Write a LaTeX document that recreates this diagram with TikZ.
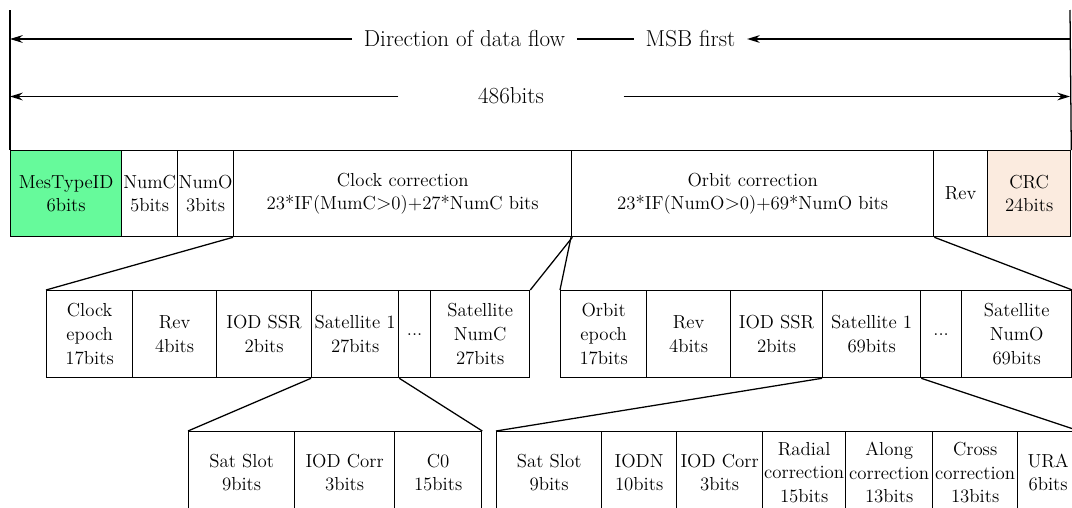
\documentclass[tikz,border=0pt]{standalone}
\usetikzlibrary{arrows.meta}
\definecolor{idgreen}{RGB}{102,250,155}
\definecolor{crcpeach}{RGB}{251,235,223}

\begin{document}
\begin{tikzpicture}[x=0.025cm, y=-0.025cm, line width=0.9pt, >={Stealth[length=9pt,width=5.5pt]}]
    \tikzstyle{field}=[draw, anchor=north west, align=center, inner xsep=0pt, inner ysep=1pt, font=\fontsize{13.4}{16.8}\selectfont]
    \tikzstyle{flowtext}=[font=\fontsize{16.4}{20}\selectfont, inner ysep=0pt, text height=11pt, text depth=0.5pt]

    \useasboundingbox (0,0) rectangle (1072,507);
    \clip (0,0) rectangle (1072,507);

    % message fields
    \node[field, fill=idgreen, minimum width=2.775cm, minimum height=2.15cm] (f1) at (10,150) {MesTypeID\\6bits};
    \node[field, minimum width=1.4cm, minimum height=2.15cm] (f2) at (121,150) {NumC\\5bits};
    \node[field, minimum width=1.4cm, minimum height=2.15cm] (f3) at (177,150) {NumO\\3bits};
    \node[field, minimum width=8.45cm, minimum height=2.15cm] (f4) at (233,150) {Clock correction\\23*IF(MumC$>$0)+27*NumC bits};
    \node[field, minimum width=9.05cm, minimum height=2.15cm] (f5) at (571,150) {Orbit correction\\23*IF(NumO$>$0)+69*NumO bits};
    \node[field, minimum width=1.35cm, minimum height=2.15cm] (f6) at (933,150) {Rev};
    \node[field, fill=crcpeach, minimum width=2.075cm, minimum height=2.15cm] (f7) at (987,150) {CRC\\24bits};

    % clock correction
    \node[field, minimum width=2.15cm, minimum height=2.175cm] (c1) at (46,290) {Clock\\epoch\\17bits};
    \node[field, minimum width=2.1cm, minimum height=2.175cm] (c2) at (132,290) {Rev\\4bits};
    \node[field, minimum width=2.375cm, minimum height=2.175cm] (c3) at (216,290) {IOD SSR\\2bits};
    \node[field, minimum width=2.175cm, minimum height=2.175cm] (c4) at (311,290) {Satellite 1\\27bits};
    \node[field, minimum width=0.8cm, minimum height=2.175cm] (c5) at (398,290) {...};
    \node[field, minimum width=2.475cm, minimum height=2.175cm] (c6) at (430,290) {Satellite\\NumC\\27bits};

    % orbit correction
    \node[field, minimum width=2.15cm, minimum height=2.175cm] (o1) at (560,290) {Orbit\\epoch\\17bits};
    \node[field, minimum width=2.1cm, minimum height=2.175cm] (o2) at (646,290) {Rev\\4bits};
    \node[field, minimum width=2.3cm, minimum height=2.175cm] (o3) at (730,290) {IOD SSR\\2bits};
    \node[field, minimum width=2.45cm, minimum height=2.175cm] (o4) at (822,290) {Satellite 1\\69bits};
    \node[field, minimum width=1.025cm, minimum height=2.175cm] (o5) at (920,290) {...};
    \node[field, minimum width=2.75cm, minimum height=2.175cm] (o6) at (961,290) {Satellite\\NumO\\69bits};

    % one clock satellite
    \node[field, minimum width=2.65cm, minimum height=2.05cm] (cs1) at (188,431) {Sat Slot\\9bits};
    \node[field, minimum width=2.5cm, minimum height=2.05cm] (cs2) at (294,431) {IOD Corr\\3bits};
    \node[field, minimum width=2.175cm, minimum height=2.05cm] (cs3) at (394,431) {C0\\15bits};

    % one orbit satellite
    \node[field, minimum width=2.625cm, minimum height=2.05cm] (os1) at (496,431) {Sat Slot\\9bits};
    \node[field, minimum width=1.875cm, minimum height=2.05cm] (os2) at (601,431) {IODN\\10bits};
    \node[field, minimum width=2.15cm, minimum height=2.05cm] (os3) at (676,431) {IOD Corr\\3bits};
    \node[field, minimum width=2.075cm, minimum height=2.05cm] (os4) at (762,431) {Radial\\correction\\15bits};
    \node[field, minimum width=2.175cm, minimum height=2.05cm] (os5) at (845,431) {Along\\correction\\13bits};
    \node[field, minimum width=2.125cm, minimum height=2.05cm] (os6) at (932,431) {Cross\\correction\\13bits};
    \node[field, minimum width=1.525cm, minimum height=2.05cm] (os7) at (1017,431) {URA\\6bits};

    % expansion lines
    \draw (f4.south west) -- (c1.north west);
    \draw (f4.south east) -- (c6.north east);
    \draw (f5.south west) -- (o1.north west);
    \draw (f5.south east) -- (o6.north east);
    \draw (c4.south west) -- (cs1.north west);
    \draw (c4.south east) -- (cs3.north east);
    \draw (o4.south west) -- (os1.north west);
    \draw (o4.south east) -- (os7.north east);

    % data flow and length
    \coordinate (lt) at (10,10);
    \coordinate (rt) at (1070,10);
    \draw (lt) -- (f1.north west);
    \draw (rt) -- (f7.north east);

    \node[flowtext, inner xsep=8pt] (dir) at (464.5,39) {Direction of data flow};
    \node[flowtext, inner xsep=8pt] (msb) at (690.5,39) {MSB first};
    \draw[->] (dir.west) -- (dir.west -| lt);
    \draw (dir.east) -- (msb.west);
    \draw[->] (msb.east -| rt) -- (msb.east);

    \node[flowtext, minimum width=5.6cm] (len) at (511,96.5) {486bits};
    \draw[->] (len.west) -- (len.west -| lt);
    \draw[->] (len.east) -- (len.east -| rt);
\end{tikzpicture}
\end{document}
